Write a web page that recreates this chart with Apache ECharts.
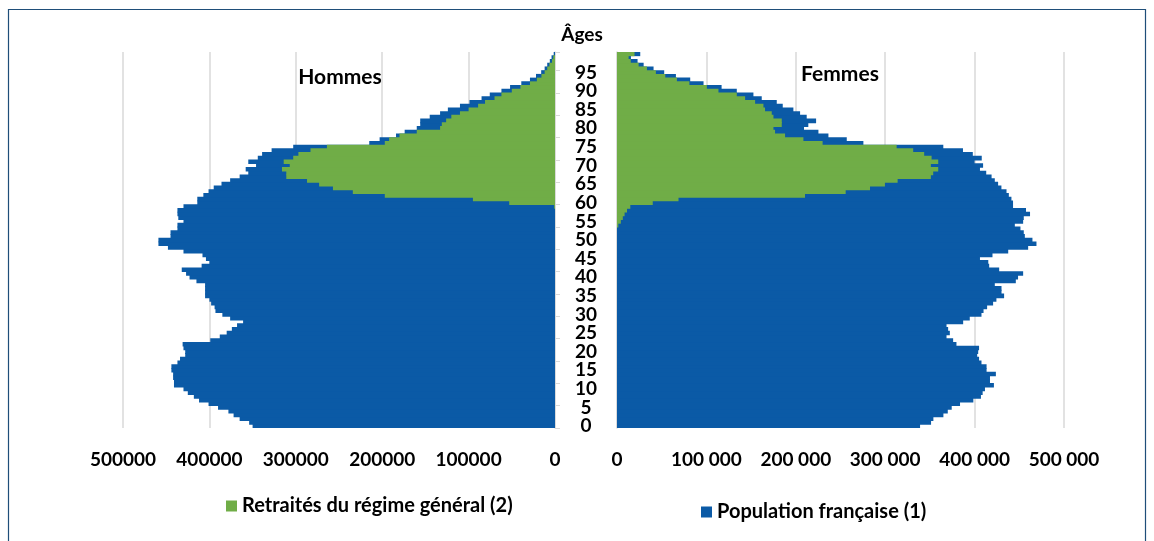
<!DOCTYPE html>
<html>
<head>
<meta charset="utf-8">
<script src="https://cdn.jsdelivr.net/npm/echarts@6/dist/echarts.min.js"></script>
<style>
  html, body { margin: 0; padding: 0; background: #fff; }
  #chart { width: 1154px; height: 541px; }
</style>
</head>
<body>
<div id="chart"></div>
<script>
  // ages 0..100, values from bottom (0) to top (100)
  const ages = []
  for (let a = 0; a <= 100; a++) ages.push(String(a))

  const hommesPopulation = [
    350000, 354000, 365000, 372000, 378000, 390000, 401000, 412000, 418000, 425000,
    430000, 441000, 441000, 442000, 442000, 444000, 444000, 437000, 434000, 428000,
    428000, 430000, 431000, 399000, 388000, 380000, 374000, 368000, 361000, 376000,
    385000, 393000, 394000, 398000, 400000, 405000, 405000, 405000, 405000, 415000,
    423000, 427000, 432000, 409000, 400000, 404000, 408000, 430000, 448000, 459000,
    459000, 445000, 445000, 437000, 437000, 430000, 436000, 437000, 437000, 430000,
    414000, 414000, 407000, 401000, 395000, 386000, 376000, 365000, 355000, 358000,
    346000, 355000, 344000, 339000, 328000, 303000, 215000, 203000, 184000, 174000,
    160000, 156000, 156000, 145000, 133000, 124000, 110000, 99000, 85000, 75500,
    62000, 52000, 39000, 29000, 22000, 16000, 12000, 9000, 6000, 4000,
    1500
  ]
  const hommesRetraites = [
    0, 0, 0, 0, 0, 0, 0, 0, 0, 0,
    0, 0, 0, 0, 0, 0, 0, 0, 0, 0,
    0, 0, 0, 0, 0, 0, 0, 0, 0, 0,
    0, 0, 0, 0, 0, 0, 0, 0, 0, 0,
    0, 0, 0, 0, 0, 0, 0, 0, 0, 0,
    0, 0, 0, 0, 0, 0, 0, 0, 0, 1000,
    53000, 95000, 197000, 234000, 257000, 273000, 287000, 311000, 311000, 316000,
    307000, 314000, 303000, 297000, 283000, 264000, 197000, 192000, 180000, 160000,
    133000, 131000, 126000, 120000, 110000, 100000, 89000, 81000, 70000, 62000,
    50000, 40000, 29000, 21000, 15700, 12000, 9000, 6500, 3500, 2000,
    0
  ]
  const femmesPopulation = [
    339000, 351300, 353900, 365100, 370000, 374400, 383700, 398600, 407100, 409000,
    411600, 421600, 417200, 417200, 423800, 413400, 413400, 407700, 405000, 402900,
    404000, 405000, 379700, 376000, 368600, 372300, 370400, 368600, 387200, 394600,
    407700, 410000, 414000, 420700, 424400, 433000, 430100, 430100, 422600, 446100,
    448600, 454300, 427500, 416300, 415300, 406000, 420000, 437600, 459900, 469200,
    464700, 456200, 455000, 451300, 445000, 454300, 455000, 462000, 457500, 443000,
    443000, 441200, 438300, 435700, 430000, 426300, 422600, 419000, 413000, 406000,
    409500, 400000, 408000, 398000, 387000, 365000, 275600, 257000, 236500, 225300,
    209200, 214000, 222700, 212200, 204800, 197300, 185400, 178700, 161900, 152600,
    134000, 117000, 96800, 81900, 65900, 52800, 40900, 29800, 23000, 15600,
    26000
  ]
  const femmesRetraites = [
    0, 0, 0, 0, 0, 0, 0, 0, 0, 0,
    0, 0, 0, 0, 0, 0, 0, 0, 0, 0,
    0, 0, 0, 0, 0, 0, 0, 0, 0, 0,
    0, 0, 0, 0, 0, 0, 0, 0, 0, 0,
    0, 0, 0, 0, 0, 0, 0, 0, 0, 0,
    0, 0, 0, 0, 1500, 4300, 6500, 8500, 11200, 14900,
    40000, 68800, 210300, 255800, 283000, 299700, 313900, 351100, 353700, 359300,
    351100, 359300, 351900, 343600, 331300, 312800, 230000, 208500, 188000, 176800,
    175000, 184300, 184300, 175000, 173100, 165600, 163800, 154500, 143300, 134000,
    113500, 100500, 81000, 67000, 54000, 43500, 33500, 24200, 15400, 13000,
    19600
  ]

  const BLUE = '#0b5aa6'
  const GREEN = '#70ad47'
  const GRIDLINE = '#d9d9d9'
  const FONT = 'Lato'
  const popName = 'Population française (1)'
  const retName = 'Retraités du régime général (2)'

  const chart = echarts.init(document.getElementById('chart'))

  const xAxisBase = {
    type: 'value',
    min: 0,
    max: 500000,
    interval: 100000,
    axisLine: { show: false },
    axisTick: { show: false },
    splitLine: { lineStyle: { color: GRIDLINE, width: 1.5 } },
    axisLabel: {
      margin: 22,
      color: '#000',
      fontFamily: FONT,
      fontWeight: 'bold',
      fontSize: 19
    }
  }

  const legendText = { color: '#000', fontFamily: FONT, fontWeight: 'bold', fontSize: 20 }

  // bars a bit wider than the band so neighbours overlap (no seams)
  function barSeries(name, data, idx, color) {
    return {
      name: name,
      type: 'bar',
      xAxisIndex: idx,
      yAxisIndex: idx,
      data: data,
      barWidth: 4.6,
      barGap: '-100%',
      itemStyle: { color: color }
    }
  }

  const option = {
    backgroundColor: '#ffffff',
    animation: false,
    legend: [{
      data: [retName],
      left: 221,
      top: 491,
      icon: 'rect',
      itemWidth: 11,
      itemHeight: 11,
      textStyle: legendText
    }, {
      data: [popName],
      left: 696,
      top: 497,
      icon: 'rect',
      itemWidth: 11,
      itemHeight: 11,
      textStyle: legendText
    }],
    grid: [
      { left: 123, width: 432, top: 52, height: 376 },
      { left: 617, width: 447, top: 52, height: 376 }
    ],
    xAxis: [
      Object.assign({}, xAxisBase, {
        gridIndex: 0,
        inverse: true,
        axisLabel: Object.assign({}, xAxisBase.axisLabel, { formatter: v => String(v) })
      }),
      Object.assign({}, xAxisBase, {
        gridIndex: 1,
        axisLabel: Object.assign({}, xAxisBase.axisLabel, {
          formatter: v => v === 0 ? '0' : String(v).replace(/\B(?=(\d{3})+(?!\d))/g, ' ')
        })
      })
    ],
    yAxis: [{
      type: 'category',
      gridIndex: 0,
      position: 'right',
      data: ages,
      axisLine: { lineStyle: { color: GRIDLINE, width: 1.5 } },
      axisTick: { show: true, interval: 5, length: 5, lineStyle: { color: GRIDLINE } },
      axisLabel: { show: false }
    }, {
      type: 'category',
      gridIndex: 1,
      position: 'left',
      data: ages,
      axisLine: { lineStyle: { color: GRIDLINE, width: 1.5 } },
      axisTick: { show: false },
      axisLabel: {
        interval: 0,
        formatter: v => (Number(v) % 5 === 0 && Number(v) < 100) ? v : '',
        margin: 31,
        align: 'center',
        color: '#000',
        fontFamily: FONT,
        fontWeight: 'bold',
        fontSize: 19
      }
    }],
    series: [
      barSeries(popName, hommesPopulation, 0, BLUE),
      barSeries(retName, hommesRetraites, 0, GREEN),
      barSeries(popName, femmesPopulation, 1, BLUE),
      barSeries(retName, femmesRetraites, 1, GREEN)
    ],
    graphic: [{
      type: 'rect',
      shape: { x: 8.5, y: 9.5, width: 1137, height: 560 },
      style: { fill: 'none', stroke: '#1f4e79', lineWidth: 1.2 },
      silent: true
    }, {
      type: 'text',
      x: 340, y: 77,
      style: { text: 'Hommes', fill: '#000', font: 'bold 21px Lato', textAlign: 'center', textVerticalAlign: 'middle' }
    }, {
      type: 'text',
      x: 840, y: 74,
      style: { text: 'Femmes', fill: '#000', font: 'bold 21px Lato', textAlign: 'center', textVerticalAlign: 'middle' }
    }, {
      type: 'text',
      x: 582, y: 35,
      style: { text: 'Âges', fill: '#000', font: 'bold 19px Lato', textAlign: 'center', textVerticalAlign: 'middle' }
    }]
  }

  chart.setOption(option)
</script>
</body>
</html>
